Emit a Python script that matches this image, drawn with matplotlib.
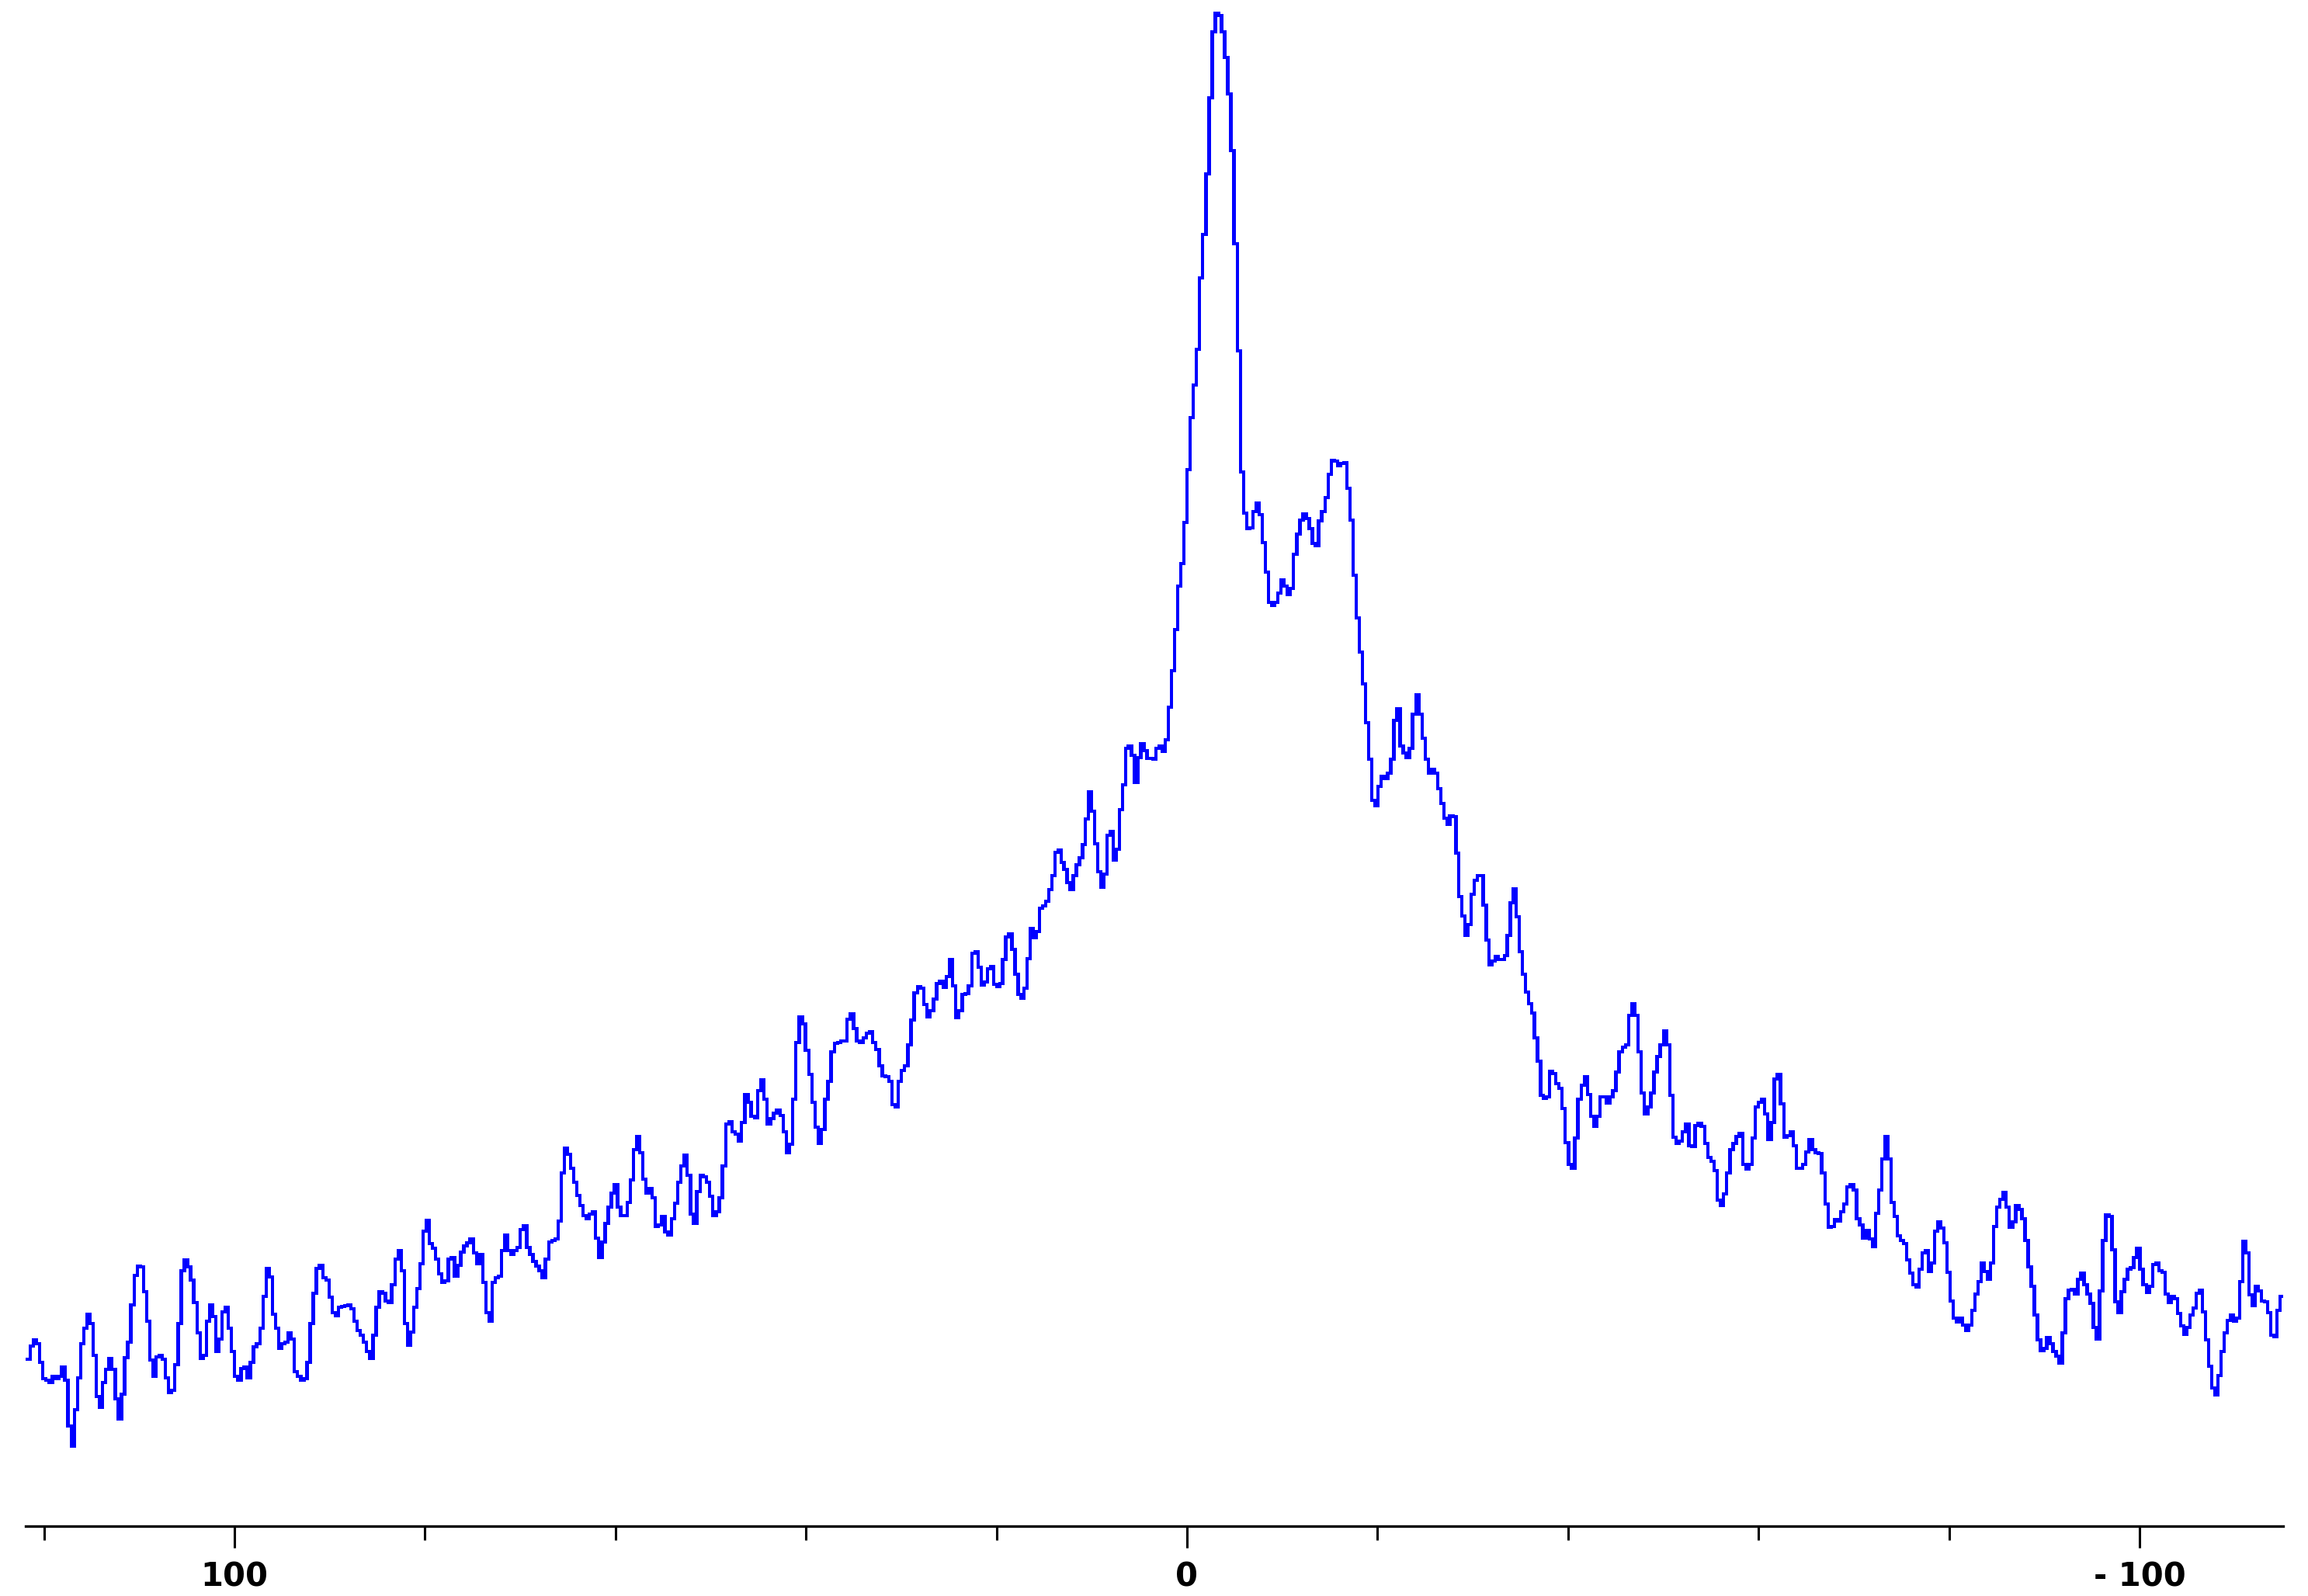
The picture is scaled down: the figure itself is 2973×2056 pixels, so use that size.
import numpy as np
import matplotlib
matplotlib.use("Agg")
import matplotlib.pyplot as plt

# Chemical-shift segment boundaries (ppm, decreasing left -> right)
seg_bounds = [121.76, 88.75, 56.15, 21.92, 1.63, -26.65, -38.39, -72.62, -115.08]

# Intensity values (arbitrary units) read segment by segment
seg_a = [215,232,240,235,211,190,188,185,193,190,
         193,205,188,129,103,150,191,235,255,273,
         261,220,167,153,185,202,216,202,164,138,
         170,217,237,285,323,335,334,302,264,214,
         193,218,220,215,191,172,175,208,261,329,
         343,334,317,288,249,216,220,264,285,270,
         225,241,276,282,255,225,193,188,203,205,
         191,211,231,235,255,296,332,321,273,255,
         229,235,237,249,241,199,193,188,190,211,
         261,300,332,336,320,317,295,275,271,282]
seg_b = [283,284,285,280,264,252,246,237,225,216,
         246,282,302,300,290,288,311,344,355,329,
         261,233,250,282,306,338,380,394,364,358,
         344,325,314,316,344,346,322,336,353,361,
         365,370,352,338,350,314,275,264,314,320,
         322,355,375,355,350,355,359,382,387,359,
         350,341,335,329,320,344,366,368,370,393,
         455,487,479,461,443,426,413,400,396,402,
         405,371,346,366,390,411,429,440,411,400,
         400,417,446,485,502,481,447,429,435]
seg_c = [423,386,388,399,379,375,396,416,443,464,
         478,452,402,390,431,452,450,443,425,400,
         405,423,464,518,521,508,505,496,520,556,
         546,528,526,561,575,550,518,525,532,536,
         529,508,481,492,550,623,656,647,613,582,
         546,514,493,511,550,573,611,622,623,625,
         625,653,660,641,625,623,629,635,637,623,
         614,593,580,579,573,543,540,573,587,593,
         620,652,687,695,693,672,656,664,679,699,
         702,694,708,730,696,655,664,685,686,696,
         738,740]
seg_d = [720,697,701,718,721,698,695,699,730,759,
         763,743,711,685,680,693,731,770,758,766,
         796,799,805,820,838,868,871,855,846,829,
         820,838,852,861,878,911,946,921,879,843,
         823,840,890,895,858,872,923,955,1002,1005,
         993,958,990,1008,999,989,989,988,1002,1005,
         998,1013,1055]
seg_e = [1102,1155,1211,1240,1293,1361,1428,1470,1516,1608,
         1664,1742,1840,1925,1949,1946,1925,1892,1845,1772,
         1652,1514,1358,1305,1285,1286,1307,1318,1303,1267,
         1229,1190,1186,1190,1202,1219,1211,1200,1208,1252,
         1278,1296,1304,1298,1285,1266,1263,1295,1307,1325,
         1355,1373,1372,1366,1369,1370,1337,1296,1225,1170,
         1126,1085,1035,988,935,928,953,966,963,970,
         988,1038,1053,1005,996,990,1002,1046,1071,1046,
         1015,988,970,975,970,950]
seg_f = [931,912,904,915,914,867,811,786,761,775,
         814,832,838,838,800,755,723,728,734,730,
         730,735,761,803,821,785,740,711,688,673,
         661,629,599,555,551,553,586]
seg_g = [583,570,564,538,494,466,461,500,550,568,
         579,556,528,515,528,553,553,545,553,561,
         585,611,617,620,658,673,658,611,558,531,
         540,558,585,605,620,638,620,555,501,493,
         496,508,518,490,489,516,519,515,493,475,
         470,458,420,413,428,455,485,493,502,506,
         466,460,466,500,540,546,550,531,498,520,
         576,582,544,501,503,508,490,461,461,466,
         482,498,485,481,480,455,415,385,386,395,
         393,405,415,437,440,433,396,388,371,381,
         370,360,403]
seg_h = [433,473,502,473,417,399,374,368,364,343,
         326,311,308,331,352,355,328,339,380,392,
         384,365,327,290,268,263,268,259,252,259,
         278,299,315,339,328,318,339,386,411,421,
         430,411,385,392,413,408,396,368,334,309,
         272,240,226,229,243,235,225,219,210,249,
         293,304,305,299,318,326,311,299,287,256,
         241,303,368,401,399,356,289,275,302,318,
         331,333,346,358,331,311,301,309,337,339,
         329,327,299,288,296,293,274,258,247,256,
         272,281,300,304,276,240,206,178,169,194,
         225,249,265,272,264,268,315,367,352,298,
         284,309,303,290,289,275,246,244,278,296]

segments = [seg_a, seg_b, seg_c, seg_d, seg_e, seg_f, seg_g, seg_h]

major_ticks = [100, 0, -100]
major_labels = ["100", "0", "- 100"]
minor_ticks = [120, 80, 60, 40, 20, -20, -40, -60, -80]

# Build step edges
edges = []
values = []
for i, seg in enumerate(segments):
    e = np.linspace(seg_bounds[i], seg_bounds[i + 1], len(seg) + 1)
    if i > 0:
        e = e[1:]
    edges.extend(e.tolist())
    values.extend(seg)
edges = np.array(edges)
values = np.array(values, dtype=float)

W, H = 2973, 2056
fig = plt.figure(figsize=(W / 100, H / 100), dpi=100)
fig.patch.set_facecolor("white")

axis_y = 1966
left_px, right_px = 33, 2941
ax = fig.add_axes([left_px / W, (H - axis_y) / H, (right_px - left_px) / W, axis_y / H])

ax.plot(edges, np.append(values, values[-1]), drawstyle="steps-post",
        color="#0000FF", linewidth=2.4, solid_joinstyle="miter",
        antialiased=False)

x_left = 121.92
x_right = -115.08
ax.set_xlim(x_left, x_right)
ax.set_ylim(0, axis_y)

for s in ["top", "left", "right"]:
    ax.spines[s].set_visible(False)
ax.spines["bottom"].set_linewidth(2.4)
ax.spines["bottom"].set_color("black")
ax.set_yticks([])

ax.set_xticks(major_ticks)
ax.set_xticklabels(major_labels)
ax.set_xticks(minor_ticks, minor=True)
ax.tick_params(axis="x", which="major", direction="out", length=20, width=2.2,
               pad=12, labelsize=30, colors="black")
ax.tick_params(axis="x", which="minor", direction="out", length=13, width=2.2)
for lbl in ax.get_xticklabels():
    lbl.set_fontweight("bold")
    lbl.set_family("DejaVu Sans")

fig.savefig("out.png", dpi=100, facecolor="white")
